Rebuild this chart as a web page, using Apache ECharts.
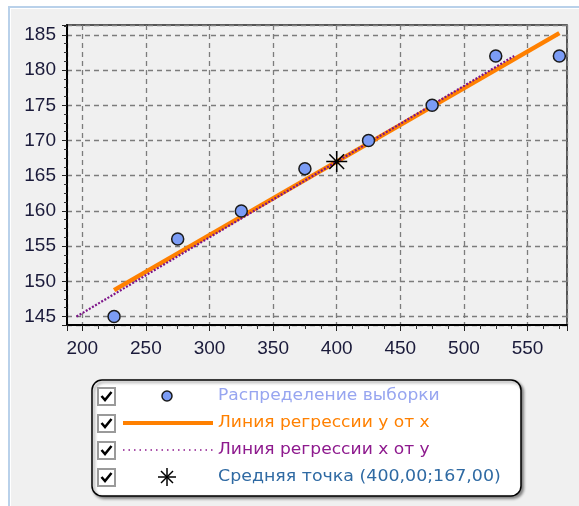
<!DOCTYPE html>
<html>
<head>
<meta charset="utf-8">
<script src="https://cdn.jsdelivr.net/npm/echarts@6.0.0/dist/echarts.min.js"></script>
<style>
	html, body { margin: 0; padding: 0; background: #fff; }
	#chart { width: 579px; height: 506px; }
</style>
</head>
<body>
<div id="chart"></div>
<script>
// выборка
var sampleX = [225, 275, 325, 375, 425, 475, 525, 575];
var sampleY = [145, 156, 160, 166, 170, 175, 182, 182];
// линия регрессии y от x (концы)
var lineYxX = [225, 575];
var lineYxY = [148.75, 185.25];
// линия регрессии x от y (концы)
var lineXyX = [195.5, 539.5];
var lineXyY = [145, 182];
// средняя точка
var meanX = [400];
var meanY = [167];
var seriesNames = ['Распределение выборки', 'Линия регрессии y от x', 'Линия регрессии x от y',
	'Средняя точка (400,00;167,00)'];

function pairs(xs, ys) {
	var out = [];
	for (var i = 0; i < xs.length; i++) {
		out.push([xs[i], ys[i]]);
	}
	return out;
}

var legendColors = ['#97a5f0', '#ff8000', '#8e1a8e', '#2f6aa3'];
var legendScale = [1.14, 1.14, 1.14, 1.16];
var rowY = [396, 423, 450, 477];
var asterisk = 'path://M10,0L10,20M0,10L20,10M3,3L17,17M3,17L17,3';

function legendGraphic() {
	var els = [];
	// фон окна
	els.push({ type: 'rect', shape: { x: 8, y: 6, width: 571, height: 500 }, style: { fill: '#b9d1ea' }, silent: true, z: -10 });
	els.push({ type: 'rect', shape: { x: 10, y: 8, width: 569, height: 498 }, style: { fill: '#ffffff' }, silent: true, z: -10 });
	els.push({ type: 'rect', shape: { x: 11, y: 9, width: 568, height: 497 }, style: { fill: '#f0f0f0' }, silent: true, z: -10 });
	// рамка легенды
	els.push({
		type: 'rect', shape: { x: 92, y: 380, width: 429, height: 116, r: 10 },
		style: { fill: '#ffffff', stroke: '#000', lineWidth: 1.5, shadowBlur: 3, shadowOffsetX: 2, shadowOffsetY: 2, shadowColor: 'rgba(0,0,0,0.45)' },
		z: 10
	});
	for (var i = 0; i < 4; i++) {
		var cy = rowY[i];
		// чекбокс
		els.push({ type: 'rect', shape: { x: 98, y: cy - 8, width: 17, height: 17 }, style: { fill: '#fff', stroke: '#9a9a9a', lineWidth: 2 }, z: 11 });
		els.push({ type: 'polyline', shape: { points: [[101.5, cy], [105, cy + 4], [111.5, cy - 4]] }, style: { stroke: '#000', lineWidth: 2.5, fill: null }, z: 12 });
		// значок
		if (i === 0) {
			els.push({ type: 'circle', shape: { cx: 167, cy: cy, r: 5 }, style: { fill: '#7b9cf5', stroke: '#1a1a1a', lineWidth: 1.5 }, z: 12 });
		} else if (i === 1) {
			els.push({ type: 'line', shape: { x1: 123, y1: cy, x2: 213, y2: cy }, style: { stroke: '#ff8000', lineWidth: 4 }, z: 12 });
		} else if (i === 2) {
			els.push({ type: 'line', shape: { x1: 123, y1: cy, x2: 213, y2: cy }, style: { stroke: '#8e1a8e', lineWidth: 1.5, lineDash: [1.5, 4] }, z: 12 });
		} else {
			var arms = [[0, -9, 0, 9], [-9, 0, 9, 0], [-6, -6, 6, 6], [-6, 6, 6, -6]];
			for (var k = 0; k < arms.length; k++) {
				els.push({ type: 'line', shape: { x1: 167 + arms[k][0], y1: cy + arms[k][1], x2: 167 + arms[k][2], y2: cy + arms[k][3] }, style: { stroke: '#000', lineWidth: 1.5 }, z: 12 });
			}
		}
		els.push({
			type: 'text', x: 218, y: cy, scaleX: legendScale[i],
			style: { text: seriesNames[i], fill: legendColors[i], font: '15px "DejaVu Sans"', verticalAlign: 'middle', align: 'left' },
			z: 12
		});
	}
	return els;
}

var myChart = echarts.init(document.getElementById('chart'));
var option = {
	backgroundColor: '#ffffff',
	animation: false,
	graphic: legendGraphic(),
	grid: {
		left: 67, top: 25, right: 12, bottom: 181,
		show: true, backgroundColor: 'transparent', borderColor: '#222', borderWidth: 1.5,
		containLabel: false
	},
	xAxis: {
		type: 'value',
		min: 188, max: 581,
		minInterval: 50, maxInterval: 50,
		axisLine: { show: true, onZero: false, lineStyle: { color: '#000', width: 2 } },
		axisTick: { show: true, length: 6, lineStyle: { color: '#222' } },
		minorTick: { show: true, splitNumber: 4, length: 4, lineStyle: { color: '#333' } },
		axisLabel: { showMinLabel: false, showMaxLabel: false, margin: 14, color: '#1a1a3a', fontFamily: 'Liberation Sans', fontSize: 19 },
		splitLine: { show: true, lineStyle: { color: '#7c7c7c', type: [5, 4], width: 1.3 } }
	},
	yAxis: {
		type: 'value',
		min: 143.8, max: 186.4,
		minInterval: 5, maxInterval: 5,
		axisLine: { show: true, onZero: false, lineStyle: { color: '#000', width: 2 } },
		axisTick: { show: true, length: 5, lineStyle: { color: '#222' } },
		minorTick: { show: true, splitNumber: 4, length: 3, lineStyle: { color: '#333' } },
		axisLabel: { showMinLabel: false, showMaxLabel: false, margin: 11, color: '#1a1a3a', fontFamily: 'Liberation Sans', fontSize: 19 },
		splitLine: { show: true, lineStyle: { color: '#7c7c7c', type: [5, 4], width: 1.3 } }
	},
	series: [{
		name: seriesNames[1],
		type: 'line',
		data: pairs(lineYxX, lineYxY),
		showSymbol: false,
		symbol: 'none',
		lineStyle: { color: '#ff8000', width: 4.5 },
		z: 2
	}, {
		name: seriesNames[2],
		type: 'line',
		data: pairs(lineXyX, lineXyY),
		showSymbol: false,
		symbol: 'none',
		lineStyle: { color: '#7d1489', width: 2.2, type: [2, 1.6] },
		z: 3
	}, {
		name: seriesNames[0],
		type: 'scatter',
		data: pairs(sampleX, sampleY),
		symbol: 'circle',
		symbolSize: 12,
		itemStyle: { color: '#7b9cf5', borderColor: '#1a1a1a', borderWidth: 1.5, opacity: 1 },
		z: 4
	}, {
		name: seriesNames[3],
		type: 'scatter',
		data: pairs(meanX, meanY),
		symbol: asterisk,
		symbolSize: 21,
		itemStyle: { color: 'rgba(0,0,0,0)', borderColor: '#000', borderWidth: 1.5, opacity: 1 },
		z: 5
	}]
};
myChart.setOption(option);
</script>
</body>
</html>
